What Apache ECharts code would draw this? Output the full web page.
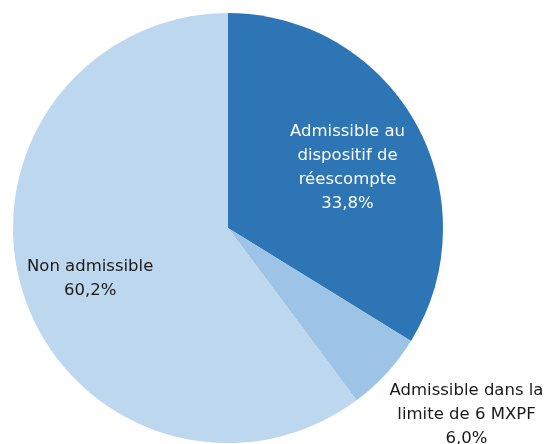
<!DOCTYPE html>
<html><head><meta charset="utf-8">
<script src="https://cdn.jsdelivr.net/npm/echarts@6/dist/echarts.min.js"></script>
<style>html,body{margin:0;padding:0;background:#fff}#c{width:546px;height:444px}</style>
</head><body><div id="c"></div>
<script>
const categories = ["Admissible au\ndispositif de\nréescompte", "Admissible dans la\nlimite de 6 MXPF", "Non admissible"];
const values = [33.8, 6.0, 60.2];
const colors = ["#2E75B6", "#9DC3E6", "#BDD7EE"];
const labelColors = ["#ffffff", "#1a1a1a", "#1a1a1a"];
const labelOffsets = [[23, -6], [157, 112], [-33, 16]];

const chart = echarts.init(document.getElementById('c'), null, {renderer: 'canvas'});
chart.setOption({
  animation: false,
  series: [{
    type: 'pie',
    center: [228, 228],
    radius: [0, 215],
    startAngle: 90,
    clockwise: true,
    itemStyle: {borderWidth: 0},
    label: {
      show: true,
      position: 'inside',
      fontFamily: '"DejaVu Sans"',
      fontSize: 16.5,
      lineHeight: 24,
      align: 'center',
      formatter: p => p.name + '\n' + p.value.toFixed(1).replace('.', ',') + '%'
    },
    labelLine: {show: false},
    emphasis: {disabled: true},
    data: categories.map((n, i) => ({
      name: n, value: values[i],
      itemStyle: {color: colors[i]},
      label: {color: labelColors[i], offset: labelOffsets[i]}
    }))
  }]
});
</script></body></html>
